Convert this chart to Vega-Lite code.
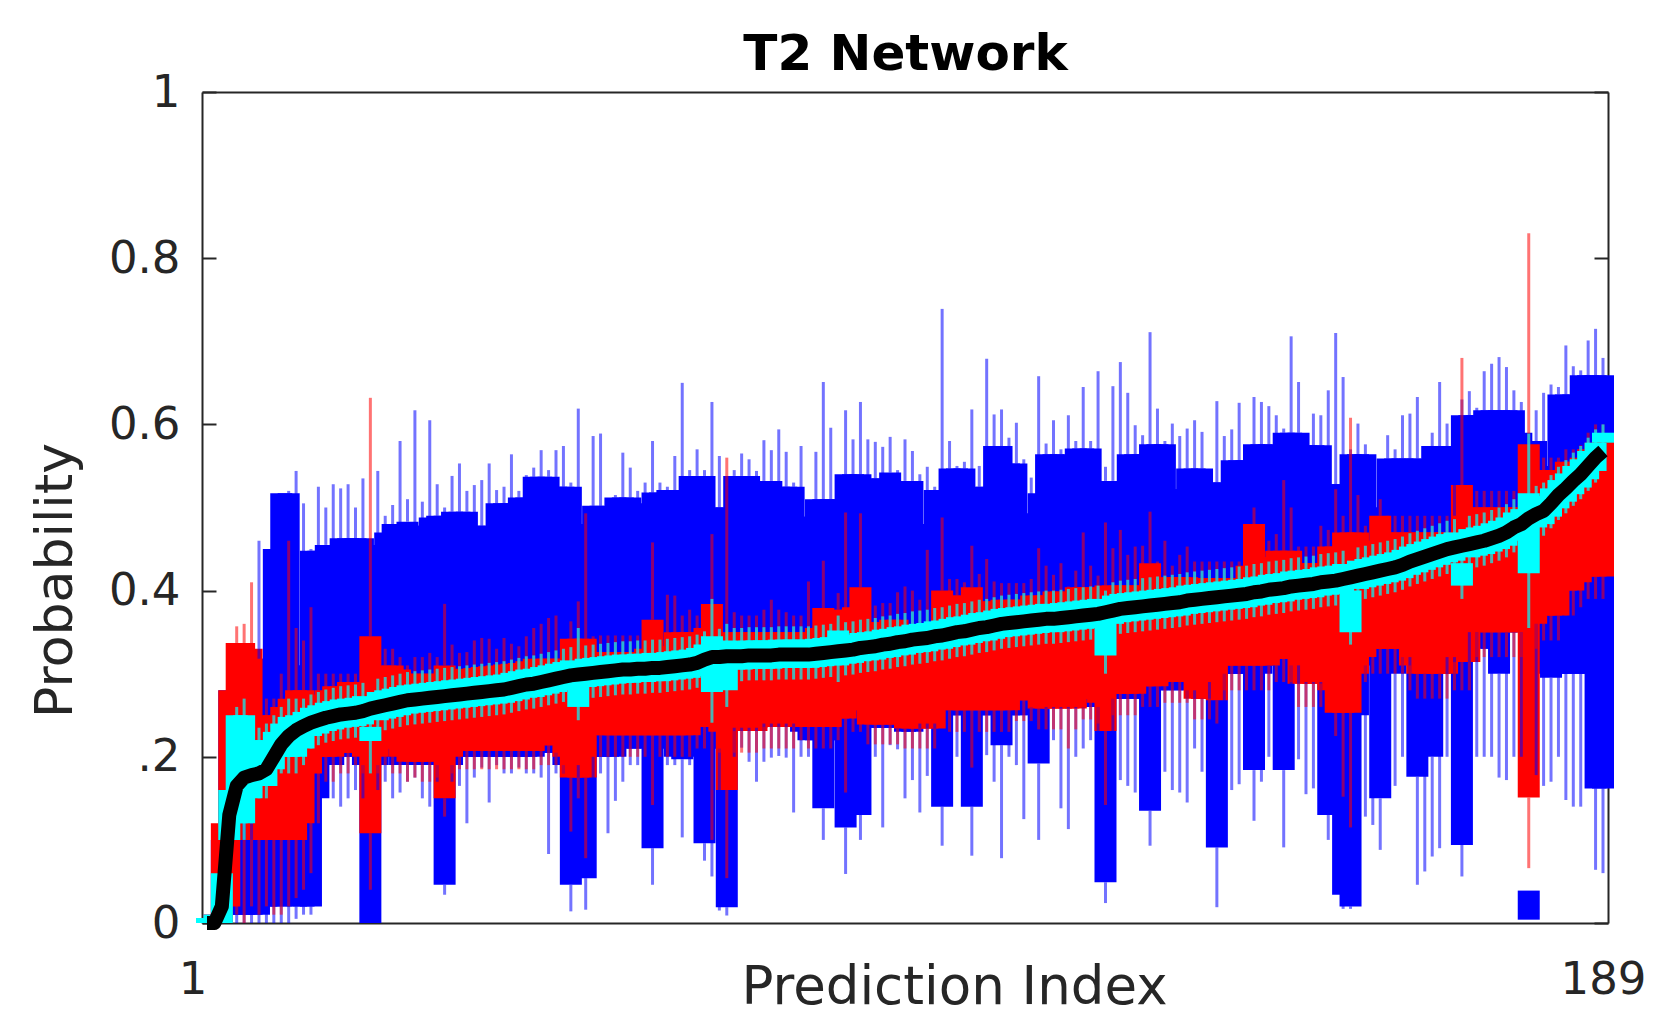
{
"$schema":"https://vega.github.io/schema/vega-lite/v6.json",
"width":1406,"height":831,
"autosize":{"type":"none"},
"padding":{"left":202,"top":92,"right":51,"bottom":94},
"background":"white",
"config":{"view":{"stroke":null},"axis":{"grid":false,"domainColor":"#262626","tickColor":"#262626","labelColor":"#262626","titleColor":"#262626","labelFont":"DejaVu Sans","titleFont":"DejaVu Sans","titleFontWeight":"normal","domainWidth":2,"tickWidth":2}},
"data":{"values":[
{"i":1,"m":0,"c1":0,"c3":0.006,"cl":0,"ch":0.01,"r1":0,"r3":0.005,"rl":0,"rh":0.008,"b1":0,"b3":0.004,"bl":0,"bh":0.006},
{"i":2,"m":0,"c1":0,"c3":0.01,"cl":0,"ch":0.02,"r1":0,"r3":0.01,"rl":0,"rh":0.015,"b1":0,"b3":0.01,"bl":0,"bh":0.012},
{"i":3,"m":0.02,"c1":0,"c3":0.06,"cl":0,"ch":0.09,"r1":0,"r3":0.12,"rl":0,"rh":0.2,"b1":0,"b3":0.1,"bl":0,"bh":0.15},
{"i":4,"m":0.13,"c1":0.1,"c3":0.16,"cl":0.08,"ch":0.18,"r1":0.02,"r3":0.28,"rl":0,"rh":0.327,"b1":0.01,"b3":0.28,"bl":0,"bh":0.28},
{"i":5,"m":0.165,"c1":0.12,"c3":0.25,"cl":0.1,"ch":0.26,"r1":0.1,"r3":0.337,"rl":0.01,"rh":0.357,"b1":0.01,"b3":0.1,"bl":0,"bh":0.24},
{"i":6,"m":0.175,"c1":0.12,"c3":0.25,"cl":0.1,"ch":0.27,"r1":0.1,"r3":0.337,"rl":0,"rh":0.36,"b1":0.01,"b3":0.1,"bl":0,"bh":0.2},
{"i":7,"m":0.178,"c1":0.15,"c3":0.22,"cl":0.12,"ch":0.24,"r1":0.1,"r3":0.33,"rl":0.02,"rh":0.41,"b1":0.01,"b3":0.1,"bl":0,"bh":0.15},
{"i":8,"m":0.18,"c1":0.165,"c3":0.22,"cl":0.15,"ch":0.235,"r1":0.1,"r3":0.25,"rl":0.01,"rh":0.28,"b1":0.01,"b3":0.318,"bl":0,"bh":0.46},
{"i":9,"m":0.185,"c1":0.165,"c3":0.22,"cl":0.15,"ch":0.24,"r1":0.12,"r3":0.24,"rl":0.02,"rh":0.27,"b1":0.02,"b3":0.318,"bl":0,"bh":0.33},
{"i":10,"m":0.2,"c1":0.185,"c3":0.23,"cl":0.17,"ch":0.25,"r1":0.1,"r3":0.25,"rl":0.01,"rh":0.27,"b1":0.02,"b3":0.45,"bl":0,"bh":0.46},
{"i":11,"m":0.215,"c1":0.2,"c3":0.24,"cl":0.18,"ch":0.26,"r1":0.1,"r3":0.26,"rl":0.01,"rh":0.3,"b1":0.02,"b3":0.517,"bl":0,"bh":0.517},
{"i":12,"m":0.225,"c1":0.2,"c3":0.248,"cl":0.18,"ch":0.27,"r1":0.1,"r3":0.27,"rl":0.02,"rh":0.46,"b1":0.03,"b3":0.517,"bl":0,"bh":0.52},
{"i":13,"m":0.232,"c1":0.2,"c3":0.25,"cl":0.18,"ch":0.27,"r1":0.1,"r3":0.28,"rl":0.03,"rh":0.355,"b1":0.02,"b3":0.31,"bl":0.005,"bh":0.544},
{"i":14,"m":0.237,"c1":0.21,"c3":0.254,"cl":0.19,"ch":0.27,"r1":0.12,"r3":0.28,"rl":0.04,"rh":0.34,"b1":0.02,"b3":0.31,"bl":0.01,"bh":0.505},
{"i":15,"m":0.241,"c1":0.225,"c3":0.259,"cl":0.21,"ch":0.275,"r1":0.18,"r3":0.27,"rl":0.06,"rh":0.38,"b1":0.02,"b3":0.448,"bl":0.01,"bh":0.45},
{"i":16,"m":0.244,"c1":0.228,"c3":0.262,"cl":0.214,"ch":0.278,"r1":0.2,"r3":0.275,"rl":0.12,"rh":0.3,"b1":0.15,"b3":0.448,"bl":0.05,"bh":0.525},
{"i":17,"m":0.247,"c1":0.231,"c3":0.265,"cl":0.217,"ch":0.281,"r1":0.2,"r3":0.28,"rl":0.17,"rh":0.3,"b1":0.19,"b3":0.455,"bl":0.18,"bh":0.5},
{"i":18,"m":0.249,"c1":0.233,"c3":0.267,"cl":0.219,"ch":0.283,"r1":0.2,"r3":0.285,"rl":0.17,"rh":0.3,"b1":0.19,"b3":0.455,"bl":0.15,"bh":0.528},
{"i":19,"m":0.251,"c1":0.235,"c3":0.269,"cl":0.221,"ch":0.285,"r1":0.205,"r3":0.285,"rl":0.18,"rh":0.3,"b1":0.2,"b3":0.463,"bl":0.14,"bh":0.523},
{"i":20,"m":0.252,"c1":0.236,"c3":0.27,"cl":0.222,"ch":0.286,"r1":0.205,"r3":0.29,"rl":0.18,"rh":0.3,"b1":0.2,"b3":0.463,"bl":0.15,"bh":0.528},
{"i":21,"m":0.253,"c1":0.237,"c3":0.271,"cl":0.223,"ch":0.287,"r1":0.205,"r3":0.29,"rl":0.19,"rh":0.3,"b1":0.2,"b3":0.463,"bl":0.16,"bh":0.5},
{"i":22,"m":0.255,"c1":0.239,"c3":0.273,"cl":0.225,"ch":0.289,"r1":0.2,"r3":0.29,"rl":0.18,"rh":0.31,"b1":0.19,"b3":0.463,"bl":0.15,"bh":0.535},
{"i":23,"m":0.258,"c1":0.219,"c3":0.236,"cl":0.18,"ch":0.27,"r1":0.108,"r3":0.345,"rl":0.04,"rh":0.632,"b1":0,"b3":0.455,"bl":0,"bh":0.455},
{"i":24,"m":0.26,"c1":0.244,"c3":0.278,"cl":0.23,"ch":0.294,"r1":0.2,"r3":0.3,"rl":0.18,"rh":0.32,"b1":0.19,"b3":0.455,"bl":0.16,"bh":0.544},
{"i":25,"m":0.262,"c1":0.246,"c3":0.28,"cl":0.232,"ch":0.296,"r1":0.21,"r3":0.31,"rl":0.19,"rh":0.33,"b1":0.2,"b3":0.47,"bl":0.17,"bh":0.49},
{"i":26,"m":0.264,"c1":0.248,"c3":0.282,"cl":0.234,"ch":0.298,"r1":0.21,"r3":0.31,"rl":0.18,"rh":0.33,"b1":0.2,"b3":0.48,"bl":0.15,"bh":0.503},
{"i":27,"m":0.266,"c1":0.25,"c3":0.284,"cl":0.236,"ch":0.3,"r1":0.2,"r3":0.305,"rl":0.18,"rh":0.32,"b1":0.19,"b3":0.48,"bl":0.157,"bh":0.58},
{"i":28,"m":0.268,"c1":0.252,"c3":0.286,"cl":0.238,"ch":0.302,"r1":0.194,"r3":0.3,"rl":0.17,"rh":0.31,"b1":0.19,"b3":0.483,"bl":0.17,"bh":0.51},
{"i":29,"m":0.269,"c1":0.253,"c3":0.287,"cl":0.239,"ch":0.303,"r1":0.194,"r3":0.3,"rl":0.175,"rh":0.32,"b1":0.19,"b3":0.478,"bl":0.175,"bh":0.617},
{"i":30,"m":0.27,"c1":0.254,"c3":0.288,"cl":0.24,"ch":0.304,"r1":0.194,"r3":0.3,"rl":0.17,"rh":0.32,"b1":0.19,"b3":0.478,"bl":0.15,"bh":0.507},
{"i":31,"m":0.271,"c1":0.255,"c3":0.289,"cl":0.241,"ch":0.305,"r1":0.194,"r3":0.3,"rl":0.17,"rh":0.325,"b1":0.19,"b3":0.488,"bl":0.14,"bh":0.605},
{"i":32,"m":0.272,"c1":0.256,"c3":0.29,"cl":0.242,"ch":0.306,"r1":0.2,"r3":0.3,"rl":0.175,"rh":0.32,"b1":0.19,"b3":0.49,"bl":0.17,"bh":0.528},
{"i":33,"m":0.273,"c1":0.257,"c3":0.291,"cl":0.243,"ch":0.307,"r1":0.15,"r3":0.31,"rl":0.128,"rh":0.384,"b1":0.046,"b3":0.49,"bl":0.034,"bh":0.5},
{"i":34,"m":0.274,"c1":0.258,"c3":0.292,"cl":0.244,"ch":0.308,"r1":0.2,"r3":0.305,"rl":0.18,"rh":0.335,"b1":0.19,"b3":0.495,"bl":0.17,"bh":0.538},
{"i":35,"m":0.275,"c1":0.259,"c3":0.293,"cl":0.245,"ch":0.309,"r1":0.207,"r3":0.305,"rl":0.185,"rh":0.325,"b1":0.2,"b3":0.495,"bl":0.165,"bh":0.553},
{"i":36,"m":0.276,"c1":0.26,"c3":0.294,"cl":0.246,"ch":0.31,"r1":0.207,"r3":0.306,"rl":0.185,"rh":0.326,"b1":0.2,"b3":0.495,"bl":0.12,"bh":0.52},
{"i":37,"m":0.277,"c1":0.261,"c3":0.295,"cl":0.247,"ch":0.311,"r1":0.207,"r3":0.307,"rl":0.185,"rh":0.34,"b1":0.2,"b3":0.478,"bl":0.175,"bh":0.527},
{"i":38,"m":0.278,"c1":0.262,"c3":0.296,"cl":0.248,"ch":0.312,"r1":0.207,"r3":0.308,"rl":0.185,"rh":0.343,"b1":0.2,"b3":0.478,"bl":0.187,"bh":0.533},
{"i":39,"m":0.279,"c1":0.263,"c3":0.297,"cl":0.249,"ch":0.313,"r1":0.207,"r3":0.309,"rl":0.185,"rh":0.342,"b1":0.2,"b3":0.478,"bl":0.145,"bh":0.553},
{"i":40,"m":0.28,"c1":0.264,"c3":0.298,"cl":0.25,"ch":0.314,"r1":0.207,"r3":0.31,"rl":0.185,"rh":0.33,"b1":0.2,"b3":0.505,"bl":0.19,"bh":0.521},
{"i":41,"m":0.281,"c1":0.265,"c3":0.299,"cl":0.251,"ch":0.315,"r1":0.207,"r3":0.311,"rl":0.185,"rh":0.343,"b1":0.2,"b3":0.505,"bl":0.18,"bh":0.525},
{"i":42,"m":0.283,"c1":0.267,"c3":0.301,"cl":0.253,"ch":0.317,"r1":0.207,"r3":0.312,"rl":0.185,"rh":0.336,"b1":0.2,"b3":0.505,"bl":0.18,"bh":0.564},
{"i":43,"m":0.285,"c1":0.269,"c3":0.303,"cl":0.255,"ch":0.319,"r1":0.207,"r3":0.313,"rl":0.185,"rh":0.333,"b1":0.2,"b3":0.512,"bl":0.187,"bh":0.52},
{"i":44,"m":0.287,"c1":0.271,"c3":0.305,"cl":0.257,"ch":0.321,"r1":0.207,"r3":0.315,"rl":0.185,"rh":0.345,"b1":0.2,"b3":0.512,"bl":0.18,"bh":0.539},
{"i":45,"m":0.288,"c1":0.272,"c3":0.306,"cl":0.258,"ch":0.322,"r1":0.207,"r3":0.318,"rl":0.185,"rh":0.355,"b1":0.2,"b3":0.537,"bl":0.18,"bh":0.548},
{"i":46,"m":0.29,"c1":0.274,"c3":0.308,"cl":0.26,"ch":0.324,"r1":0.214,"r3":0.318,"rl":0.19,"rh":0.36,"b1":0.205,"b3":0.537,"bl":0.175,"bh":0.569},
{"i":47,"m":0.292,"c1":0.276,"c3":0.31,"cl":0.262,"ch":0.326,"r1":0.214,"r3":0.318,"rl":0.19,"rh":0.367,"b1":0.205,"b3":0.537,"bl":0.083,"bh":0.545},
{"i":48,"m":0.294,"c1":0.278,"c3":0.312,"cl":0.264,"ch":0.328,"r1":0.214,"r3":0.318,"rl":0.19,"rh":0.37,"b1":0.205,"b3":0.525,"bl":0.18,"bh":0.569},
{"i":49,"m":0.296,"c1":0.28,"c3":0.314,"cl":0.266,"ch":0.33,"r1":0.2,"r3":0.318,"rl":0.18,"rh":0.34,"b1":0.19,"b3":0.525,"bl":0.18,"bh":0.574},
{"i":50,"m":0.298,"c1":0.282,"c3":0.316,"cl":0.268,"ch":0.332,"r1":0.175,"r3":0.342,"rl":0.11,"rh":0.363,"b1":0.046,"b3":0.525,"bl":0.014,"bh":0.53},
{"i":51,"m":0.299,"c1":0.26,"c3":0.285,"cl":0.244,"ch":0.355,"r1":0.175,"r3":0.342,"rl":0.15,"rh":0.387,"b1":0.19,"b3":0.458,"bl":0.17,"bh":0.619},
{"i":52,"m":0.3,"c1":0.284,"c3":0.318,"cl":0.27,"ch":0.334,"r1":0.175,"r3":0.342,"rl":0.078,"rh":0.493,"b1":0.054,"b3":0.48,"bl":0.016,"bh":0.5},
{"i":53,"m":0.301,"c1":0.285,"c3":0.319,"cl":0.271,"ch":0.335,"r1":0.23,"r3":0.325,"rl":0.205,"rh":0.345,"b1":0.2,"b3":0.502,"bl":0.17,"bh":0.586},
{"i":54,"m":0.302,"c1":0.286,"c3":0.32,"cl":0.272,"ch":0.336,"r1":0.226,"r3":0.326,"rl":0.2,"rh":0.346,"b1":0.2,"b3":0.502,"bl":0.18,"bh":0.589},
{"i":55,"m":0.303,"c1":0.287,"c3":0.321,"cl":0.273,"ch":0.337,"r1":0.226,"r3":0.326,"rl":0.2,"rh":0.346,"b1":0.2,"b3":0.5,"bl":0.108,"bh":0.505},
{"i":56,"m":0.304,"c1":0.288,"c3":0.322,"cl":0.274,"ch":0.338,"r1":0.226,"r3":0.326,"rl":0.2,"rh":0.346,"b1":0.2,"b3":0.512,"bl":0.147,"bh":0.515},
{"i":57,"m":0.305,"c1":0.289,"c3":0.323,"cl":0.275,"ch":0.339,"r1":0.226,"r3":0.326,"rl":0.2,"rh":0.346,"b1":0.21,"b3":0.512,"bl":0.17,"bh":0.566},
{"i":58,"m":0.305,"c1":0.289,"c3":0.323,"cl":0.275,"ch":0.339,"r1":0.226,"r3":0.326,"rl":0.2,"rh":0.346,"b1":0.21,"b3":0.512,"bl":0.19,"bh":0.548},
{"i":59,"m":0.306,"c1":0.29,"c3":0.324,"cl":0.276,"ch":0.34,"r1":0.226,"r3":0.326,"rl":0.2,"rh":0.346,"b1":0.21,"b3":0.505,"bl":0.19,"bh":0.52},
{"i":60,"m":0.306,"c1":0.29,"c3":0.324,"cl":0.276,"ch":0.34,"r1":0.226,"r3":0.33,"rl":0.2,"rh":0.35,"b1":0.21,"b3":0.485,"bl":0.19,"bh":0.53},
{"i":61,"m":0.307,"c1":0.291,"c3":0.325,"cl":0.277,"ch":0.341,"r1":0.226,"r3":0.365,"rl":0.142,"rh":0.458,"b1":0.09,"b3":0.518,"bl":0.046,"bh":0.58},
{"i":62,"m":0.307,"c1":0.291,"c3":0.325,"cl":0.277,"ch":0.341,"r1":0.226,"r3":0.333,"rl":0.2,"rh":0.353,"b1":0.21,"b3":0.518,"bl":0.19,"bh":0.53},
{"i":63,"m":0.308,"c1":0.292,"c3":0.326,"cl":0.278,"ch":0.342,"r1":0.226,"r3":0.333,"rl":0.2,"rh":0.395,"b1":0.21,"b3":0.521,"bl":0.19,"bh":0.525},
{"i":64,"m":0.309,"c1":0.293,"c3":0.327,"cl":0.279,"ch":0.343,"r1":0.226,"r3":0.35,"rl":0.2,"rh":0.394,"b1":0.2,"b3":0.521,"bl":0.19,"bh":0.562},
{"i":65,"m":0.31,"c1":0.294,"c3":0.328,"cl":0.28,"ch":0.344,"r1":0.226,"r3":0.35,"rl":0.2,"rh":0.37,"b1":0.197,"b3":0.521,"bl":0.103,"bh":0.65},
{"i":66,"m":0.311,"c1":0.295,"c3":0.329,"cl":0.281,"ch":0.345,"r1":0.226,"r3":0.35,"rl":0.2,"rh":0.377,"b1":0.2,"b3":0.538,"bl":0.19,"bh":0.545},
{"i":67,"m":0.313,"c1":0.297,"c3":0.331,"cl":0.283,"ch":0.347,"r1":0.236,"r3":0.35,"rl":0.21,"rh":0.37,"b1":0.21,"b3":0.538,"bl":0.19,"bh":0.57},
{"i":68,"m":0.317,"c1":0.301,"c3":0.335,"cl":0.287,"ch":0.351,"r1":0.236,"r3":0.355,"rl":0.21,"rh":0.375,"b1":0.096,"b3":0.538,"bl":0.075,"bh":0.545},
{"i":69,"m":0.32,"c1":0.278,"c3":0.345,"cl":0.241,"ch":0.39,"r1":0.236,"r3":0.384,"rl":0.1,"rh":0.468,"b1":0.21,"b3":0.5,"bl":0.056,"bh":0.627},
{"i":70,"m":0.32,"c1":0.304,"c3":0.338,"cl":0.29,"ch":0.354,"r1":0.23,"r3":0.345,"rl":0.205,"rh":0.365,"b1":0.21,"b3":0.5,"bl":0.015,"bh":0.562},
{"i":71,"m":0.321,"c1":0.28,"c3":0.34,"cl":0.26,"ch":0.36,"r1":0.16,"r3":0.35,"rl":0.054,"rh":0.56,"b1":0.019,"b3":0.5,"bl":0.009,"bh":0.51},
{"i":72,"m":0.321,"c1":0.305,"c3":0.339,"cl":0.291,"ch":0.355,"r1":0.231,"r3":0.35,"rl":0.205,"rh":0.374,"b1":0.235,"b3":0.538,"bl":0.2,"bh":0.545},
{"i":73,"m":0.321,"c1":0.305,"c3":0.339,"cl":0.291,"ch":0.355,"r1":0.231,"r3":0.35,"rl":0.205,"rh":0.37,"b1":0.235,"b3":0.538,"bl":0.211,"bh":0.565},
{"i":74,"m":0.322,"c1":0.306,"c3":0.34,"cl":0.292,"ch":0.356,"r1":0.231,"r3":0.35,"rl":0.205,"rh":0.37,"b1":0.235,"b3":0.538,"bl":0.194,"bh":0.558},
{"i":75,"m":0.322,"c1":0.306,"c3":0.34,"cl":0.292,"ch":0.356,"r1":0.231,"r3":0.35,"rl":0.205,"rh":0.37,"b1":0.235,"b3":0.532,"bl":0.17,"bh":0.544},
{"i":76,"m":0.322,"c1":0.306,"c3":0.34,"cl":0.292,"ch":0.356,"r1":0.236,"r3":0.35,"rl":0.21,"rh":0.377,"b1":0.24,"b3":0.532,"bl":0.194,"bh":0.581},
{"i":77,"m":0.322,"c1":0.306,"c3":0.34,"cl":0.292,"ch":0.356,"r1":0.236,"r3":0.35,"rl":0.21,"rh":0.389,"b1":0.24,"b3":0.532,"bl":0.199,"bh":0.569},
{"i":78,"m":0.323,"c1":0.307,"c3":0.341,"cl":0.293,"ch":0.357,"r1":0.236,"r3":0.35,"rl":0.21,"rh":0.377,"b1":0.24,"b3":0.525,"bl":0.201,"bh":0.594},
{"i":79,"m":0.323,"c1":0.307,"c3":0.341,"cl":0.293,"ch":0.357,"r1":0.236,"r3":0.35,"rl":0.21,"rh":0.374,"b1":0.24,"b3":0.525,"bl":0.199,"bh":0.567},
{"i":80,"m":0.323,"c1":0.307,"c3":0.341,"cl":0.293,"ch":0.357,"r1":0.236,"r3":0.35,"rl":0.21,"rh":0.37,"b1":0.24,"b3":0.525,"bl":0.133,"bh":0.53},
{"i":81,"m":0.323,"c1":0.307,"c3":0.341,"cl":0.293,"ch":0.357,"r1":0.244,"r3":0.35,"rl":0.22,"rh":0.37,"b1":0.23,"b3":0.489,"bl":0.2,"bh":0.574},
{"i":82,"m":0.323,"c1":0.307,"c3":0.341,"cl":0.293,"ch":0.357,"r1":0.236,"r3":0.35,"rl":0.21,"rh":0.411,"b1":0.22,"b3":0.489,"bl":0.2,"bh":0.507},
{"i":83,"m":0.324,"c1":0.308,"c3":0.342,"cl":0.294,"ch":0.358,"r1":0.236,"r3":0.355,"rl":0.21,"rh":0.375,"b1":0.22,"b3":0.51,"bl":0.2,"bh":0.567},
{"i":84,"m":0.325,"c1":0.309,"c3":0.343,"cl":0.295,"ch":0.359,"r1":0.236,"r3":0.379,"rl":0.21,"rh":0.436,"b1":0.138,"b3":0.51,"bl":0.1,"bh":0.651},
{"i":85,"m":0.326,"c1":0.31,"c3":0.344,"cl":0.296,"ch":0.36,"r1":0.236,"r3":0.355,"rl":0.21,"rh":0.375,"b1":0.22,"b3":0.51,"bl":0.2,"bh":0.596},
{"i":86,"m":0.327,"c1":0.31,"c3":0.352,"cl":0.29,"ch":0.37,"r1":0.246,"r3":0.377,"rl":0.22,"rh":0.397,"b1":0.22,"b3":0.51,"bl":0.2,"bh":0.528},
{"i":87,"m":0.328,"c1":0.312,"c3":0.346,"cl":0.298,"ch":0.362,"r1":0.246,"r3":0.377,"rl":0.157,"rh":0.494,"b1":0.115,"b3":0.54,"bl":0.059,"bh":0.617},
{"i":88,"m":0.329,"c1":0.313,"c3":0.347,"cl":0.299,"ch":0.363,"r1":0.256,"r3":0.38,"rl":0.23,"rh":0.4,"b1":0.22,"b3":0.54,"bl":0.2,"bh":0.582},
{"i":89,"m":0.331,"c1":0.315,"c3":0.349,"cl":0.301,"ch":0.365,"r1":0.256,"r3":0.404,"rl":0.23,"rh":0.493,"b1":0.13,"b3":0.54,"bl":0.1,"bh":0.627},
{"i":90,"m":0.332,"c1":0.316,"c3":0.35,"cl":0.302,"ch":0.366,"r1":0.239,"r3":0.362,"rl":0.215,"rh":0.382,"b1":0.235,"b3":0.535,"bl":0.2,"bh":0.582},
{"i":91,"m":0.333,"c1":0.317,"c3":0.351,"cl":0.303,"ch":0.367,"r1":0.239,"r3":0.362,"rl":0.215,"rh":0.382,"b1":0.235,"b3":0.535,"bl":0.2,"bh":0.579},
{"i":92,"m":0.335,"c1":0.319,"c3":0.353,"cl":0.305,"ch":0.369,"r1":0.239,"r3":0.362,"rl":0.215,"rh":0.385,"b1":0.235,"b3":0.535,"bl":0.115,"bh":0.573},
{"i":93,"m":0.336,"c1":0.32,"c3":0.354,"cl":0.306,"ch":0.37,"r1":0.239,"r3":0.365,"rl":0.215,"rh":0.385,"b1":0.235,"b3":0.542,"bl":0.214,"bh":0.585},
{"i":94,"m":0.338,"c1":0.322,"c3":0.356,"cl":0.308,"ch":0.372,"r1":0.239,"r3":0.365,"rl":0.215,"rh":0.398,"b1":0.235,"b3":0.532,"bl":0.209,"bh":0.545},
{"i":95,"m":0.339,"c1":0.323,"c3":0.357,"cl":0.309,"ch":0.373,"r1":0.234,"r3":0.355,"rl":0.21,"rh":0.405,"b1":0.23,"b3":0.532,"bl":0.15,"bh":0.582},
{"i":96,"m":0.341,"c1":0.325,"c3":0.359,"cl":0.311,"ch":0.375,"r1":0.234,"r3":0.355,"rl":0.21,"rh":0.4,"b1":0.23,"b3":0.532,"bl":0.172,"bh":0.568},
{"i":97,"m":0.342,"c1":0.326,"c3":0.36,"cl":0.312,"ch":0.376,"r1":0.234,"r3":0.355,"rl":0.21,"rh":0.389,"b1":0.24,"b3":0.48,"bl":0.133,"bh":0.54},
{"i":98,"m":0.343,"c1":0.327,"c3":0.361,"cl":0.313,"ch":0.377,"r1":0.234,"r3":0.355,"rl":0.21,"rh":0.449,"b1":0.24,"b3":0.48,"bl":0.177,"bh":0.549},
{"i":99,"m":0.345,"c1":0.329,"c3":0.363,"cl":0.315,"ch":0.379,"r1":0.234,"r3":0.36,"rl":0.21,"rh":0.38,"b1":0.24,"b3":0.521,"bl":0.2,"bh":0.525},
{"i":100,"m":0.346,"c1":0.33,"c3":0.364,"cl":0.316,"ch":0.38,"r1":0.26,"r3":0.4,"rl":0.235,"rh":0.488,"b1":0.14,"b3":0.521,"bl":0.093,"bh":0.739},
{"i":101,"m":0.348,"c1":0.332,"c3":0.366,"cl":0.318,"ch":0.382,"r1":0.256,"r3":0.394,"rl":0.23,"rh":0.414,"b1":0.25,"b3":0.547,"bl":0.187,"bh":0.58},
{"i":102,"m":0.35,"c1":0.334,"c3":0.368,"cl":0.32,"ch":0.384,"r1":0.256,"r3":0.394,"rl":0.23,"rh":0.414,"b1":0.25,"b3":0.547,"bl":0.2,"bh":0.55},
{"i":103,"m":0.351,"c1":0.335,"c3":0.369,"cl":0.321,"ch":0.385,"r1":0.256,"r3":0.39,"rl":0.23,"rh":0.41,"b1":0.25,"b3":0.547,"bl":0.2,"bh":0.555},
{"i":104,"m":0.353,"c1":0.337,"c3":0.371,"cl":0.323,"ch":0.387,"r1":0.256,"r3":0.404,"rl":0.187,"rh":0.454,"b1":0.14,"b3":0.52,"bl":0.081,"bh":0.618},
{"i":105,"m":0.355,"c1":0.339,"c3":0.373,"cl":0.325,"ch":0.389,"r1":0.256,"r3":0.387,"rl":0.23,"rh":0.42,"b1":0.25,"b3":0.525,"bl":0.194,"bh":0.55},
{"i":106,"m":0.356,"c1":0.34,"c3":0.374,"cl":0.326,"ch":0.39,"r1":0.256,"r3":0.387,"rl":0.23,"rh":0.438,"b1":0.25,"b3":0.525,"bl":0.202,"bh":0.679},
{"i":107,"m":0.358,"c1":0.342,"c3":0.376,"cl":0.328,"ch":0.392,"r1":0.256,"r3":0.387,"rl":0.23,"rh":0.411,"b1":0.25,"b3":0.574,"bl":0.17,"bh":0.612},
{"i":108,"m":0.36,"c1":0.344,"c3":0.378,"cl":0.33,"ch":0.394,"r1":0.256,"r3":0.389,"rl":0.23,"rh":0.409,"b1":0.214,"b3":0.574,"bl":0.078,"bh":0.618},
{"i":109,"m":0.361,"c1":0.345,"c3":0.379,"cl":0.331,"ch":0.395,"r1":0.256,"r3":0.389,"rl":0.23,"rh":0.409,"b1":0.25,"b3":0.553,"bl":0.2,"bh":0.584},
{"i":110,"m":0.362,"c1":0.346,"c3":0.38,"cl":0.332,"ch":0.396,"r1":0.268,"r3":0.389,"rl":0.243,"rh":0.409,"b1":0.25,"b3":0.553,"bl":0.19,"bh":0.602},
{"i":111,"m":0.363,"c1":0.347,"c3":0.381,"cl":0.333,"ch":0.397,"r1":0.268,"r3":0.389,"rl":0.243,"rh":0.409,"b1":0.25,"b3":0.493,"bl":0.125,"bh":0.558},
{"i":112,"m":0.364,"c1":0.348,"c3":0.382,"cl":0.334,"ch":0.398,"r1":0.268,"r3":0.394,"rl":0.243,"rh":0.414,"b1":0.26,"b3":0.49,"bl":0.2,"bh":0.536},
{"i":113,"m":0.365,"c1":0.349,"c3":0.383,"cl":0.335,"ch":0.399,"r1":0.258,"r3":0.394,"rl":0.233,"rh":0.451,"b1":0.192,"b3":0.517,"bl":0.1,"bh":0.658},
{"i":114,"m":0.366,"c1":0.35,"c3":0.384,"cl":0.336,"ch":0.4,"r1":0.258,"r3":0.394,"rl":0.233,"rh":0.43,"b1":0.26,"b3":0.564,"bl":0.23,"bh":0.577},
{"i":115,"m":0.366,"c1":0.35,"c3":0.384,"cl":0.336,"ch":0.4,"r1":0.258,"r3":0.399,"rl":0.233,"rh":0.419,"b1":0.26,"b3":0.564,"bl":0.22,"bh":0.605},
{"i":116,"m":0.367,"c1":0.351,"c3":0.385,"cl":0.337,"ch":0.401,"r1":0.258,"r3":0.399,"rl":0.233,"rh":0.433,"b1":0.26,"b3":0.564,"bl":0.138,"bh":0.57},
{"i":117,"m":0.368,"c1":0.352,"c3":0.386,"cl":0.338,"ch":0.402,"r1":0.258,"r3":0.385,"rl":0.21,"rh":0.405,"b1":0.26,"b3":0.532,"bl":0.113,"bh":0.611},
{"i":118,"m":0.369,"c1":0.353,"c3":0.387,"cl":0.339,"ch":0.403,"r1":0.258,"r3":0.404,"rl":0.233,"rh":0.424,"b1":0.26,"b3":0.571,"bl":0.2,"bh":0.58},
{"i":119,"m":0.37,"c1":0.354,"c3":0.388,"cl":0.34,"ch":0.404,"r1":0.27,"r3":0.404,"rl":0.245,"rh":0.47,"b1":0.26,"b3":0.571,"bl":0.21,"bh":0.645},
{"i":120,"m":0.371,"c1":0.355,"c3":0.389,"cl":0.341,"ch":0.405,"r1":0.27,"r3":0.404,"rl":0.245,"rh":0.43,"b1":0.26,"b3":0.571,"bl":0.22,"bh":0.58},
{"i":121,"m":0.372,"c1":0.356,"c3":0.39,"cl":0.342,"ch":0.406,"r1":0.265,"r3":0.398,"rl":0.24,"rh":0.418,"b1":0.26,"b3":0.522,"bl":0.22,"bh":0.664},
{"i":122,"m":0.374,"c1":0.322,"c3":0.39,"cl":0.3,"ch":0.4,"r1":0.231,"r3":0.406,"rl":0.142,"rh":0.482,"b1":0.049,"b3":0.532,"bl":0.024,"bh":0.549},
{"i":123,"m":0.376,"c1":0.36,"c3":0.394,"cl":0.346,"ch":0.41,"r1":0.276,"r3":0.406,"rl":0.25,"rh":0.451,"b1":0.27,"b3":0.532,"bl":0.22,"bh":0.646},
{"i":124,"m":0.378,"c1":0.362,"c3":0.396,"cl":0.348,"ch":0.412,"r1":0.276,"r3":0.406,"rl":0.25,"rh":0.473,"b1":0.27,"b3":0.532,"bl":0.172,"bh":0.675},
{"i":125,"m":0.379,"c1":0.363,"c3":0.397,"cl":0.349,"ch":0.413,"r1":0.276,"r3":0.406,"rl":0.25,"rh":0.443,"b1":0.27,"b3":0.564,"bl":0.165,"bh":0.638},
{"i":126,"m":0.38,"c1":0.364,"c3":0.398,"cl":0.35,"ch":0.414,"r1":0.276,"r3":0.406,"rl":0.25,"rh":0.453,"b1":0.27,"b3":0.564,"bl":0.157,"bh":0.599},
{"i":127,"m":0.381,"c1":0.365,"c3":0.399,"cl":0.351,"ch":0.415,"r1":0.285,"r3":0.406,"rl":0.26,"rh":0.454,"b1":0.27,"b3":0.564,"bl":0.2,"bh":0.587},
{"i":128,"m":0.382,"c1":0.366,"c3":0.4,"cl":0.352,"ch":0.416,"r1":0.285,"r3":0.433,"rl":0.26,"rh":0.495,"b1":0.135,"b3":0.576,"bl":0.093,"bh":0.711},
{"i":129,"m":0.383,"c1":0.367,"c3":0.401,"cl":0.353,"ch":0.417,"r1":0.285,"r3":0.415,"rl":0.26,"rh":0.435,"b1":0.28,"b3":0.576,"bl":0.2,"bh":0.619},
{"i":130,"m":0.384,"c1":0.368,"c3":0.402,"cl":0.354,"ch":0.418,"r1":0.29,"r3":0.416,"rl":0.265,"rh":0.46,"b1":0.28,"b3":0.576,"bl":0.182,"bh":0.58},
{"i":131,"m":0.385,"c1":0.369,"c3":0.403,"cl":0.355,"ch":0.419,"r1":0.29,"r3":0.416,"rl":0.265,"rh":0.43,"b1":0.28,"b3":0.522,"bl":0.16,"bh":0.601},
{"i":132,"m":0.386,"c1":0.37,"c3":0.404,"cl":0.356,"ch":0.42,"r1":0.29,"r3":0.416,"rl":0.265,"rh":0.443,"b1":0.28,"b3":0.522,"bl":0.157,"bh":0.586},
{"i":133,"m":0.388,"c1":0.372,"c3":0.406,"cl":0.358,"ch":0.422,"r1":0.29,"r3":0.416,"rl":0.265,"rh":0.453,"b1":0.28,"b3":0.547,"bl":0.145,"bh":0.595},
{"i":134,"m":0.389,"c1":0.373,"c3":0.407,"cl":0.359,"ch":0.423,"r1":0.27,"r3":0.415,"rl":0.245,"rh":0.435,"b1":0.28,"b3":0.547,"bl":0.21,"bh":0.605},
{"i":135,"m":0.39,"c1":0.374,"c3":0.408,"cl":0.36,"ch":0.424,"r1":0.27,"r3":0.415,"rl":0.245,"rh":0.435,"b1":0.27,"b3":0.547,"bl":0.182,"bh":0.591},
{"i":136,"m":0.391,"c1":0.375,"c3":0.409,"cl":0.361,"ch":0.425,"r1":0.27,"r3":0.415,"rl":0.245,"rh":0.435,"b1":0.29,"b3":0.53,"bl":0.2,"bh":0.535},
{"i":137,"m":0.392,"c1":0.376,"c3":0.41,"cl":0.362,"ch":0.426,"r1":0.268,"r3":0.415,"rl":0.24,"rh":0.435,"b1":0.091,"b3":0.53,"bl":0.019,"bh":0.628},
{"i":138,"m":0.393,"c1":0.377,"c3":0.411,"cl":0.363,"ch":0.427,"r1":0.31,"r3":0.415,"rl":0.28,"rh":0.435,"b1":0.3,"b3":0.53,"bl":0.159,"bh":0.586},
{"i":139,"m":0.394,"c1":0.378,"c3":0.412,"cl":0.364,"ch":0.428,"r1":0.31,"r3":0.415,"rl":0.28,"rh":0.435,"b1":0.3,"b3":0.557,"bl":0.16,"bh":0.594},
{"i":140,"m":0.395,"c1":0.379,"c3":0.413,"cl":0.365,"ch":0.429,"r1":0.31,"r3":0.415,"rl":0.28,"rh":0.435,"b1":0.3,"b3":0.557,"bl":0.167,"bh":0.626},
{"i":141,"m":0.396,"c1":0.38,"c3":0.414,"cl":0.366,"ch":0.43,"r1":0.31,"r3":0.43,"rl":0.28,"rh":0.463,"b1":0.3,"b3":0.557,"bl":0.2,"bh":0.56},
{"i":142,"m":0.398,"c1":0.382,"c3":0.416,"cl":0.368,"ch":0.432,"r1":0.31,"r3":0.48,"rl":0.28,"rh":0.5,"b1":0.184,"b3":0.576,"bl":0.123,"bh":0.633},
{"i":143,"m":0.399,"c1":0.383,"c3":0.417,"cl":0.369,"ch":0.433,"r1":0.31,"r3":0.44,"rl":0.28,"rh":0.46,"b1":0.3,"b3":0.576,"bl":0.17,"bh":0.627},
{"i":144,"m":0.401,"c1":0.385,"c3":0.419,"cl":0.371,"ch":0.435,"r1":0.31,"r3":0.44,"rl":0.28,"rh":0.46,"b1":0.31,"b3":0.576,"bl":0.2,"bh":0.622},
{"i":145,"m":0.402,"c1":0.386,"c3":0.42,"cl":0.372,"ch":0.436,"r1":0.318,"r3":0.448,"rl":0.29,"rh":0.468,"b1":0.31,"b3":0.528,"bl":0.2,"bh":0.611},
{"i":146,"m":0.403,"c1":0.387,"c3":0.421,"cl":0.373,"ch":0.437,"r1":0.318,"r3":0.448,"rl":0.29,"rh":0.533,"b1":0.184,"b3":0.59,"bl":0.091,"bh":0.595},
{"i":147,"m":0.405,"c1":0.389,"c3":0.423,"cl":0.375,"ch":0.439,"r1":0.318,"r3":0.448,"rl":0.29,"rh":0.5,"b1":0.31,"b3":0.59,"bl":0.19,"bh":0.706},
{"i":148,"m":0.406,"c1":0.39,"c3":0.424,"cl":0.376,"ch":0.44,"r1":0.288,"r3":0.433,"rl":0.26,"rh":0.453,"b1":0.31,"b3":0.59,"bl":0.197,"bh":0.651},
{"i":149,"m":0.407,"c1":0.391,"c3":0.425,"cl":0.377,"ch":0.441,"r1":0.288,"r3":0.433,"rl":0.26,"rh":0.453,"b1":0.29,"b3":0.575,"bl":0.155,"bh":0.58},
{"i":150,"m":0.408,"c1":0.392,"c3":0.426,"cl":0.378,"ch":0.442,"r1":0.288,"r3":0.433,"rl":0.26,"rh":0.453,"b1":0.29,"b3":0.575,"bl":0.162,"bh":0.613},
{"i":151,"m":0.41,"c1":0.394,"c3":0.428,"cl":0.38,"ch":0.444,"r1":0.288,"r3":0.433,"rl":0.26,"rh":0.478,"b1":0.29,"b3":0.575,"bl":0.147,"bh":0.611},
{"i":152,"m":0.411,"c1":0.395,"c3":0.429,"cl":0.381,"ch":0.445,"r1":0.28,"r3":0.453,"rl":0.255,"rh":0.473,"b1":0.13,"b3":0.528,"bl":0.1,"bh":0.641},
{"i":153,"m":0.412,"c1":0.396,"c3":0.43,"cl":0.382,"ch":0.446,"r1":0.253,"r3":0.453,"rl":0.225,"rh":0.522,"b1":0.25,"b3":0.528,"bl":0.1,"bh":0.71},
{"i":154,"m":0.414,"c1":0.398,"c3":0.432,"cl":0.384,"ch":0.448,"r1":0.253,"r3":0.47,"rl":0.152,"rh":0.49,"b1":0.034,"b3":0.528,"bl":0.017,"bh":0.657},
{"i":155,"m":0.416,"c1":0.35,"c3":0.4,"cl":0.335,"ch":0.43,"r1":0.253,"r3":0.47,"rl":0.115,"rh":0.608,"b1":0.02,"b3":0.564,"bl":0.017,"bh":0.57},
{"i":156,"m":0.418,"c1":0.402,"c3":0.436,"cl":0.388,"ch":0.452,"r1":0.3,"r3":0.47,"rl":0.27,"rh":0.515,"b1":0.25,"b3":0.564,"bl":0.2,"bh":0.601},
{"i":157,"m":0.42,"c1":0.404,"c3":0.438,"cl":0.39,"ch":0.454,"r1":0.32,"r3":0.45,"rl":0.29,"rh":0.478,"b1":0.31,"b3":0.564,"bl":0.128,"bh":0.576},
{"i":158,"m":0.422,"c1":0.406,"c3":0.44,"cl":0.392,"ch":0.456,"r1":0.33,"r3":0.46,"rl":0.3,"rh":0.48,"b1":0.32,"b3":0.5,"bl":0.118,"bh":0.553},
{"i":159,"m":0.424,"c1":0.408,"c3":0.442,"cl":0.394,"ch":0.458,"r1":0.33,"r3":0.49,"rl":0.3,"rh":0.51,"b1":0.15,"b3":0.5,"bl":0.088,"bh":0.555},
{"i":160,"m":0.426,"c1":0.41,"c3":0.444,"cl":0.396,"ch":0.46,"r1":0.33,"r3":0.47,"rl":0.3,"rh":0.49,"b1":0.32,"b3":0.559,"bl":0.16,"bh":0.587},
{"i":161,"m":0.428,"c1":0.412,"c3":0.446,"cl":0.398,"ch":0.462,"r1":0.33,"r3":0.47,"rl":0.3,"rh":0.49,"b1":0.3,"b3":0.559,"bl":0.165,"bh":0.57},
{"i":162,"m":0.431,"c1":0.415,"c3":0.449,"cl":0.401,"ch":0.465,"r1":0.33,"r3":0.47,"rl":0.3,"rh":0.49,"b1":0.32,"b3":0.559,"bl":0.2,"bh":0.611},
{"i":163,"m":0.435,"c1":0.419,"c3":0.453,"cl":0.405,"ch":0.469,"r1":0.31,"r3":0.47,"rl":0.28,"rh":0.49,"b1":0.32,"b3":0.559,"bl":0.2,"bh":0.613},
{"i":164,"m":0.438,"c1":0.422,"c3":0.456,"cl":0.408,"ch":0.472,"r1":0.3,"r3":0.47,"rl":0.27,"rh":0.49,"b1":0.176,"b3":0.559,"bl":0.046,"bh":0.633},
{"i":165,"m":0.441,"c1":0.425,"c3":0.459,"cl":0.411,"ch":0.475,"r1":0.3,"r3":0.47,"rl":0.27,"rh":0.49,"b1":0.3,"b3":0.48,"bl":0.062,"bh":0.55},
{"i":166,"m":0.444,"c1":0.428,"c3":0.462,"cl":0.414,"ch":0.478,"r1":0.3,"r3":0.47,"rl":0.27,"rh":0.49,"b1":0.2,"b3":0.574,"bl":0.08,"bh":0.59},
{"i":167,"m":0.447,"c1":0.431,"c3":0.465,"cl":0.417,"ch":0.481,"r1":0.3,"r3":0.47,"rl":0.27,"rh":0.49,"b1":0.3,"b3":0.574,"bl":0.09,"bh":0.651},
{"i":168,"m":0.45,"c1":0.434,"c3":0.468,"cl":0.42,"ch":0.484,"r1":0.3,"r3":0.47,"rl":0.27,"rh":0.49,"b1":0.32,"b3":0.574,"bl":0.2,"bh":0.601},
{"i":169,"m":0.452,"c1":0.436,"c3":0.47,"cl":0.422,"ch":0.486,"r1":0.314,"r3":0.47,"rl":0.28,"rh":0.49,"b1":0.32,"b3":0.49,"bl":0.2,"bh":0.59},
{"i":170,"m":0.454,"c1":0.406,"c3":0.433,"cl":0.39,"ch":0.46,"r1":0.314,"r3":0.527,"rl":0.28,"rh":0.68,"b1":0.094,"b3":0.611,"bl":0.056,"bh":0.63},
{"i":171,"m":0.456,"c1":0.44,"c3":0.474,"cl":0.426,"ch":0.49,"r1":0.314,"r3":0.5,"rl":0.28,"rh":0.52,"b1":0.35,"b3":0.611,"bl":0.2,"bh":0.64},
{"i":172,"m":0.458,"c1":0.442,"c3":0.476,"cl":0.428,"ch":0.492,"r1":0.35,"r3":0.5,"rl":0.32,"rh":0.52,"b1":0.35,"b3":0.611,"bl":0.2,"bh":0.62},
{"i":173,"m":0.46,"c1":0.444,"c3":0.478,"cl":0.43,"ch":0.494,"r1":0.35,"r3":0.5,"rl":0.32,"rh":0.52,"b1":0.33,"b3":0.617,"bl":0.2,"bh":0.664},
{"i":174,"m":0.463,"c1":0.447,"c3":0.481,"cl":0.433,"ch":0.497,"r1":0.35,"r3":0.5,"rl":0.32,"rh":0.52,"b1":0.33,"b3":0.617,"bl":0.2,"bh":0.673},
{"i":175,"m":0.466,"c1":0.45,"c3":0.484,"cl":0.436,"ch":0.5,"r1":0.35,"r3":0.5,"rl":0.32,"rh":0.52,"b1":0.3,"b3":0.617,"bl":0.175,"bh":0.681},
{"i":176,"m":0.47,"c1":0.454,"c3":0.488,"cl":0.44,"ch":0.504,"r1":0.35,"r3":0.5,"rl":0.32,"rh":0.52,"b1":0.35,"b3":0.617,"bl":0.172,"bh":0.669},
{"i":177,"m":0.476,"c1":0.46,"c3":0.494,"cl":0.446,"ch":0.51,"r1":0.35,"r3":0.5,"rl":0.32,"rh":0.52,"b1":0.35,"b3":0.617,"bl":0.2,"bh":0.641},
{"i":178,"m":0.48,"c1":0.464,"c3":0.498,"cl":0.45,"ch":0.514,"r1":0.35,"r3":0.5,"rl":0.32,"rh":0.52,"b1":0.35,"b3":0.59,"bl":0.2,"bh":0.627},
{"i":179,"m":0.487,"c1":0.421,"c3":0.517,"cl":0.355,"ch":0.589,"r1":0.151,"r3":0.576,"rl":0.066,"rh":0.83,"b1":0.004,"b3":0.039,"bl":0.004,"bh":0.039},
{"i":180,"m":0.492,"c1":0.476,"c3":0.51,"cl":0.462,"ch":0.526,"r1":0.36,"r3":0.5,"rl":0.33,"rh":0.52,"b1":0.36,"b3":0.58,"bl":0.178,"bh":0.617},
{"i":181,"m":0.496,"c1":0.48,"c3":0.514,"cl":0.466,"ch":0.53,"r1":0.37,"r3":0.545,"rl":0.34,"rh":0.56,"b1":0.3,"b3":0.55,"bl":0.165,"bh":0.638},
{"i":182,"m":0.505,"c1":0.489,"c3":0.523,"cl":0.475,"ch":0.539,"r1":0.37,"r3":0.545,"rl":0.34,"rh":0.56,"b1":0.295,"b3":0.55,"bl":0.17,"bh":0.648},
{"i":183,"m":0.515,"c1":0.499,"c3":0.533,"cl":0.485,"ch":0.549,"r1":0.37,"r3":0.545,"rl":0.34,"rh":0.56,"b1":0.3,"b3":0.636,"bl":0.2,"bh":0.645},
{"i":184,"m":0.523,"c1":0.507,"c3":0.541,"cl":0.493,"ch":0.557,"r1":0.4,"r3":0.555,"rl":0.37,"rh":0.57,"b1":0.3,"b3":0.636,"bl":0.148,"bh":0.695},
{"i":185,"m":0.532,"c1":0.516,"c3":0.55,"cl":0.502,"ch":0.566,"r1":0.4,"r3":0.555,"rl":0.37,"rh":0.57,"b1":0.3,"b3":0.636,"bl":0.14,"bh":0.67},
{"i":186,"m":0.54,"c1":0.524,"c3":0.558,"cl":0.51,"ch":0.574,"r1":0.41,"r3":0.56,"rl":0.38,"rh":0.575,"b1":0.3,"b3":0.659,"bl":0.14,"bh":0.665},
{"i":187,"m":0.55,"c1":0.534,"c3":0.568,"cl":0.52,"ch":0.584,"r1":0.417,"r3":0.57,"rl":0.39,"rh":0.59,"b1":0.3,"b3":0.659,"bl":0.2,"bh":0.701},
{"i":188,"m":0.56,"c1":0.544,"c3":0.578,"cl":0.53,"ch":0.594,"r1":0.417,"r3":0.578,"rl":0.39,"rh":0.6,"b1":0.162,"b3":0.659,"bl":0.064,"bh":0.715},
{"i":189,"m":0.568,"c1":0.578,"c3":0.59,"cl":0.56,"ch":0.6,"r1":0.417,"r3":0.58,"rl":0.39,"rh":0.6,"b1":0.162,"b3":0.659,"bl":0.06,"bh":0.68}
]},
"layer":[
{"mark":{"type":"bar","width":22,"color":"#0000ff"},
 "encoding":{
  "x":{"field":"i","type":"quantitative","scale":{"domain":[1,189],"nice":false,"zero":false},
       "axis":{"orient":"bottom","values":[1,189],"format":"d","ticks":false,"labelFontSize":45,"labelPadding":34,"labelBaseline":"top",
               "labelAlign":{"condition":{"test":"datum.value == 1","value":"right"},"value":"center"},
               "title":"Prediction Index","titleFontSize":53,"titleX":752,"titleY":80,"titleAlign":"center","titleBaseline":"alphabetic","titleAnchor":null}},
  "y":{"field":"b1","type":"quantitative","scale":{"domain":[0,1],"nice":false,"zero":false},
       "axis":{"orient":"left","values":[0,0.2,0.4,0.6,0.8,1],"format":"~g","labelExpr":"datum.value == 0.2 ? '.2' : datum.label","labelFontSize":45,"tickSize":-14,"labelPadding":36,
               "title":"Probability","titleFontSize":52,"titleAngle":-90,"titleX":-147,"titleY":488,"titleAlign":"center","titleBaseline":"middle","titleAnchor":null}},
  "y2":{"field":"b3"}}},
{"mark":{"type":"bar","width":22,"color":"#ff0000"},
 "encoding":{
  "x":{"field":"i","type":"quantitative","scale":{"domain":[1,189],"nice":false,"zero":false},
       "axis":{"orient":"top","labels":false,"ticks":false,
               "title":"T2 Network","titleFont":"DejaVu Sans","titleFontSize":50,"titleFontWeight":"bold","titleColor":"#000000","titleX":703,"titleY":-23,"titleAlign":"center","titleBaseline":"alphabetic","titleAnchor":null}},
  "y":{"field":"r1","type":"quantitative","scale":{"domain":[0,1],"nice":false,"zero":false},"axis":{"orient":"right","values":[0,0.2,0.4,0.6,0.8,1],"labels":false,"tickSize":-14,"title":null}},
  "y2":{"field":"r3"}}},
{"mark":{"type":"rule","color":"#0000ff","strokeWidth":3,"opacity":0.55},
 "encoding":{"x":{"field":"i","type":"quantitative","axis":null},"y":{"field":"b3","type":"quantitative","axis":null},"y2":{"field":"bh"}}},
{"mark":{"type":"rule","color":"#0000ff","strokeWidth":3,"opacity":0.55},
 "encoding":{"x":{"field":"i","type":"quantitative","axis":null},"y":{"field":"bl","type":"quantitative","axis":null},"y2":{"field":"b1"}}},
{"mark":{"type":"rule","color":"#ff0000","strokeWidth":3,"opacity":0.55},
 "encoding":{"x":{"field":"i","type":"quantitative","axis":null},"y":{"field":"r3","type":"quantitative","axis":null},"y2":{"field":"rh"}}},
{"mark":{"type":"rule","color":"#ff0000","strokeWidth":3,"opacity":0.55},
 "encoding":{"x":{"field":"i","type":"quantitative","axis":null},"y":{"field":"rl","type":"quantitative","axis":null},"y2":{"field":"r1"}}},
{"mark":{"type":"bar","width":22,"color":"#00ffff"},
 "encoding":{"x":{"field":"i","type":"quantitative","axis":null},"y":{"field":"c1","type":"quantitative","axis":null},"y2":{"field":"c3"}}},
{"mark":{"type":"rule","color":"#00ffff","strokeWidth":3,"opacity":0.7},
 "encoding":{"x":{"field":"i","type":"quantitative","axis":null},"y":{"field":"cl","type":"quantitative","axis":null},"y2":{"field":"ch"}}},
{"mark":{"type":"line","color":"#000000","strokeWidth":14,"strokeJoin":"round","strokeCap":"butt"},
 "encoding":{"x":{"field":"i","type":"quantitative","axis":null},"y":{"field":"m","type":"quantitative","axis":null}}}
],
"resolve":{"axis":{"x":"independent","y":"independent"}}
}
